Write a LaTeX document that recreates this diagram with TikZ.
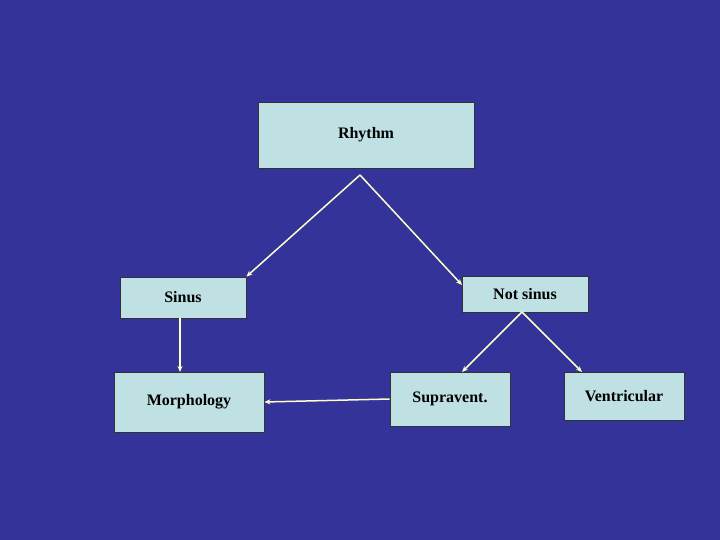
\documentclass[tikz,border=0pt]{standalone}
\usepackage{fontspec}
\setmainfont{Liberation Serif}
\usetikzlibrary{arrows.meta}
\definecolor{bg}{HTML}{333399}
\definecolor{boxfill}{HTML}{BFE1E4}
\definecolor{arr}{HTML}{FFFFCC}
\begin{document}
\begin{tikzpicture}[x=1pt,y=-1pt,
  box/.style={draw=black!80,line width=0.8pt,fill=boxfill,inner sep=0pt,font=\bfseries\fontsize{16}{18}\selectfont},
  conn/.style={draw=arr,line width=1.5pt,-{Stealth[length=6pt,width=5pt]}}]
\fill[bg] (0,0) rectangle (720,540);
\useasboundingbox (0,0) rectangle (720,540);
\node[box,minimum width=216pt,minimum height=66pt] (rh) at (366,135) {Rhythm};
\node[box,minimum width=126pt,minimum height=41pt] (si) at (183,297.5) {Sinus};
\node[box,minimum width=126pt,minimum height=36pt] (ns) at (525,294) {Not sinus};
\node[box,minimum width=150pt,minimum height=60pt] (mo) at (189,402) {Morphology};
\node[box,minimum width=120pt,minimum height=54pt] (sv) at (450,399) {Supravent.};
\node[box,minimum width=120pt,minimum height=48pt] (ve) at (624,396) {Ventricular};
\coordinate (top) at (360,175);
\coordinate (nsb) at (522,312);
\draw[conn] (top) -- (si.north east);
\draw[conn] (top) -- (462,285) coordinate (nsl);
\draw[conn] (180,318) -- (180,372);
\draw[conn] (nsb) -- (462,372);
\draw[conn] (nsb) -- (582,372);
\draw[conn] (sv.west) -- (mo.east);
\end{tikzpicture}
\end{document}
